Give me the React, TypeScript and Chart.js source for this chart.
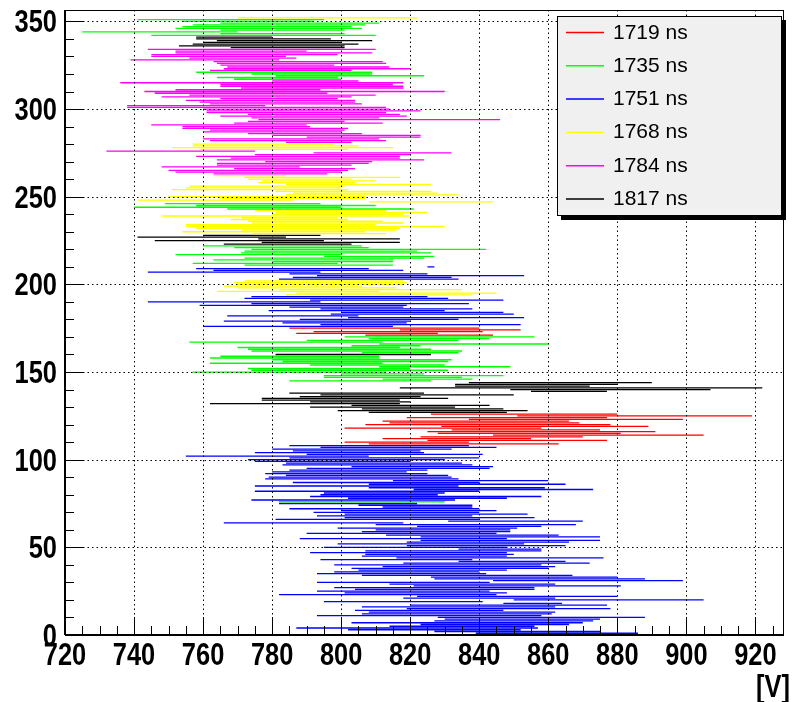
import React, { useEffect, useRef } from "react";
import { Chart, registerables } from "chart.js";

Chart.register(...registerables);

// ---- data ----
const seriesLabels = ["1719 ns", "1735 ns", "1751 ns", "1768 ns", "1784 ns", "1817 ns"];
const seriesColors = ["#ff0000", "#00ff00", "#0000ff", "#ffff00", "#ff00ff", "#000000"];
const xTickValues = [720, 740, 760, 780, 800, 820, 840, 860, 880, 900, 920];
const yTickValues = [0, 50, 100, 150, 200, 250, 300, 350];
const xAxisTitle = "[V]";

// rows: [y, low, high]
const rows1719 = [
  [175, 785, 840], [174, 817, 852], [173, 792, 841], [172, 787, 828], [171, 807, 844],
  [126, 826, 880], [125, 851, 919], [124, 819, 877], [123, 837, 899], [122, 812, 866],
  [121, 814, 869], [120, 807, 878], [119, 829, 889], [118, 801, 858], [117, 832, 875],
  [116, 825, 891], [115, 828, 881], [114, 844, 905], [113, 823, 870], [112, 812, 855],
  [111, 825, 877], [110, 801, 837], [109, 808, 863],
];

const rows1735 = [
  [351, 741, 795], [350, 754, 792], [349, 765, 811], [348, 757, 807], [347, 754, 803],
  [346, 752, 806], [345, 765, 801], [344, 725, 770], [343, 765, 801], [342, 745, 810],
  [321, 758, 809], [320, 774, 809], [319, 781, 824], [318, 764, 799], [317, 769, 800],
  [246, 749, 794], [245, 758, 810], [244, 740, 800], [243, 767, 821],
  [222, 760, 806], [221, 769, 808], [220, 774, 842], [219, 772, 822], [218, 771, 826],
  [217, 752, 800], [216, 795, 827], [215, 772, 824], [214, 763, 815], [213, 780, 815],
  [212, 757, 799], [211, 772, 815],
  [170, 801, 856], [169, 808, 843], [168, 790, 834], [167, 756, 812], [166, 811, 860],
  [165, 803, 823], [164, 770, 817], [163, 773, 826], [162, 774, 835], [161, 806, 834],
  [159, 765, 811], [158, 762, 811], [157, 780, 832], [156, 783, 831], [155, 762, 812],
  [154, 791, 830], [153, 811, 849], [152, 773, 820], [151, 774, 831], [150, 757, 813],
  [149, 800, 824], [148, 795, 847], [147, 795, 835], [146, 812, 838], [145, 785, 826],
  [76, 782, 830],
];

const rows1751 = [
  [210, 825, 827], [209, 758, 808], [208, 763, 818], [207, 744, 794], [206, 785, 825],
  [205, 793, 853], [204, 786, 832], [203, 782, 834],
  [193, 774, 825], [192, 772, 831], [191, 791, 847], [190, 744, 794], [189, 774, 837],
  [188, 759, 819], [187, 785, 818], [186, 794, 838], [185, 779, 830], [184, 800, 847],
  [183, 797, 850], [182, 767, 805], [181, 802, 853], [180, 788, 834], [179, 766, 820],
  [178, 783, 819], [177, 794, 852], [176, 760, 815],
  [108, 785, 837], [107, 794, 845], [106, 780, 832], [105, 786, 823], [104, 775, 824],
  [103, 790, 841], [102, 755, 808], [101, 785, 840], [100, 773, 830], [99, 775, 820],
  [98, 784, 835], [97, 783, 838], [96, 803, 844], [95, 790, 843], [94, 785, 825],
  [93, 780, 819], [92, 778, 825], [91, 784, 831], [90, 779, 832], [89, 778, 834],
  [88, 815, 860], [87, 786, 840], [86, 808, 865], [85, 775, 834], [84, 808, 859],
  [83, 821, 873], [82, 775, 840], [81, 795, 830], [80, 794, 828], [79, 791, 858],
  [78, 802, 848], [77, 774, 833],
  [75, 782, 822], [74, 805, 838], [73, 812, 838], [72, 785, 840], [71, 800, 845],
  [70, 792, 840], [69, 801, 854], [68, 793, 838], [67, 801, 856], [66, 781, 840],
  [65, 831, 870], [64, 766, 818], [63, 810, 868], [62, 822, 858], [61, 799, 851],
  [60, 810, 849], [59, 806, 849], [58, 790, 845], [57, 813, 863], [56, 823, 875],
  [55, 788, 848], [54, 823, 875], [53, 819, 866], [52, 799, 853], [51, 819, 865],
  [50, 795, 848], [49, 834, 858], [48, 807, 858], [47, 791, 848], [46, 807, 850],
  [45, 806, 848], [44, 816, 876], [43, 794, 838], [42, 834, 865], [41, 818, 872],
  [40, 798, 858], [39, 812, 862], [38, 803, 860], [37, 805, 848], [36, 798, 840],
  [35, 793, 842], [34, 806, 867], [33, 826, 880], [32, 827, 888], [31, 844, 899],
  [30, 793, 843], [29, 814, 862], [28, 821, 881], [27, 798, 856], [26, 804, 856],
  [25, 793, 843], [24, 801, 848], [23, 782, 845], [22, 822, 880], [21, 818, 862],
  [20, 850, 905], [19, 795, 841], [18, 847, 864], [17, 820, 877], [16, 806, 862],
  [15, 819, 878], [14, 804, 847], [13, 808, 862], [12, 806, 861], [11, 793, 858],
  [10, 828, 888], [9, 830, 875], [8, 827, 873], [7, 803, 870], [6, 823, 866],
  [5, 814, 856], [4, 787, 857], [3, 802, 852], [2, 827, 875], [1, 839, 886],
  [0, 828, 875],
];

const rows1768 = [
  [352, 770, 822],
  [280, 757, 798], [279, 757, 805], [278, 751, 815], [277, 759, 802],
  [262, 763, 784], [261, 772, 817], [260, 773, 803], [259, 777, 810], [258, 776, 804],
  [257, 784, 826], [256, 756, 801], [255, 755, 800], [254, 751, 802], [253, 781, 826],
  [252, 786, 828], [251, 784, 834], [250, 750, 807], [249, 765, 807], [248, 741, 786],
  [247, 808, 844],
  [242, 775, 813], [241, 781, 825], [240, 780, 818], [239, 748, 820], [238, 771, 799],
  [237, 768, 802], [236, 773, 812], [235, 774, 818], [234, 755, 810], [233, 755, 830],
  [232, 758, 817], [231, 771, 816], [230, 754, 807], [229, 774, 813],
  [202, 772, 818], [201, 769, 819], [200, 770, 818], [199, 766, 806], [198, 770, 816],
  [197, 782, 835], [196, 764, 811], [195, 787, 845], [194, 784, 838],
];

const rows1784 = [
  [334, 744, 810], [333, 752, 790], [332, 752, 809], [331, 745, 799], [330, 745, 784],
  [329, 756, 787], [328, 739, 782], [327, 763, 812], [326, 764, 813], [325, 765, 798],
  [324, 767, 814], [323, 766, 820], [322, 762, 803],
  [316, 780, 805], [315, 736, 818], [314, 765, 815], [313, 765, 818], [312, 771, 818],
  [311, 752, 794], [310, 743, 830], [309, 746, 796], [308, 756, 810], [307, 748, 803],
  [306, 765, 799], [305, 755, 804], [304, 759, 804], [303, 762, 806], [302, 738, 778],
  [301, 738, 813], [300, 760, 814], [299, 761, 823], [298, 761, 813], [297, 773, 817],
  [296, 765, 819], [295, 774, 811], [294, 776, 846], [293, 773, 801], [292, 769, 812],
  [291, 745, 790], [290, 754, 791], [289, 754, 802], [288, 762, 801], [287, 760, 800],
  [286, 773, 806], [285, 780, 823], [284, 790, 823], [283, 760, 811], [282, 762, 813],
  [281, 784, 803],
  [276, 732, 775], [275, 792, 832], [274, 775, 820], [273, 758, 817], [272, 768, 817],
  [271, 764, 824], [270, 778, 809], [269, 764, 808], [268, 764, 803], [267, 748, 788],
  [266, 769, 804], [265, 750, 802], [264, 752, 800], [263, 763, 796],
];

const rows1817 = [
  [341, 758, 780], [340, 758, 797], [339, 764, 809], [338, 760, 800], [337, 757, 805],
  [336, 753, 801], [335, 768, 801],
  [228, 760, 794], [227, 741, 784], [226, 776, 817], [225, 746, 795], [224, 777, 817],
  [223, 766, 803],
  [160, 781, 826],
  [144, 837, 890], [143, 833, 880], [142, 833, 872], [141, 817, 922], [140, 849, 907],
  [139, 855, 877], [138, 785, 824], [137, 794, 850], [136, 788, 823], [135, 777, 831],
  [134, 777, 817], [133, 791, 820], [132, 762, 817], [131, 803, 843], [130, 791, 833],
  [129, 806, 847], [128, 799, 854], [127, 808, 848],
];

const allRows = [rows1719, rows1735, rows1751, rows1768, rows1784, rows1817];

function toSegments(rows: number[][]) {
  const pts: { x: number; y: number | null }[] = [];
  for (const [y, lo, hi] of rows) {
    pts.push({ x: lo, y }, { x: hi, y }, { x: hi, y: null });
  }
  return pts;
}

const FONT = "'Liberation Sans', Arial, Helvetica, sans-serif";
const LABEL_SIZE = 31;
const LABEL_SQUEEZE = 0.82;

// draws condensed bold text (the reference uses a narrow bold face)
function narrowText(ctx: CanvasRenderingContext2D, text: string, x: number, y: number, align: "left" | "right" | "center") {
  ctx.save();
  ctx.translate(x, y);
  ctx.scale(LABEL_SQUEEZE, 1);
  ctx.font = `bold ${LABEL_SIZE}px ${FONT}`;
  ctx.textAlign = align;
  ctx.textBaseline = "alphabetic";
  ctx.fillStyle = "#000";
  ctx.fillText(text, 0, 0);
  ctx.restore();
}

export default function App() {
  const ref = useRef<HTMLCanvasElement>(null);

  useEffect(() => {
    const canvas = ref.current;
    if (!canvas) return;

    const datasets = allRows.map((rows, i) => ({
      label: seriesLabels[i],
      data: toSegments(rows),
      showLine: true,
      borderColor: seriesColors[i],
      backgroundColor: seriesColors[i],
      borderWidth: 1.3,
      pointRadius: 0,
      pointHoverRadius: 0,
      spanGaps: false,
    }));

    const decor = {
      id: "rootDecor",
      afterDatasetsDraw(chart: any) {
        const { ctx, chartArea } = chart;
        const xs = chart.scales.x;
        const ys = chart.scales.y;
        const { left, right, top, bottom } = chartArea;
        ctx.save();

        // dotted grid
        ctx.strokeStyle = "#000";
        ctx.lineWidth = 1;
        ctx.setLineDash([1.5, 3]);
        for (const v of xTickValues) {
          const px = Math.round(xs.getPixelForValue(v)) + 0.5;
          if (px <= left + 1 || px >= right - 1) continue;
          ctx.beginPath();
          ctx.moveTo(px, top);
          ctx.lineTo(px, bottom);
          ctx.stroke();
        }
        for (const v of yTickValues) {
          const py = Math.round(ys.getPixelForValue(v)) + 0.5;
          if (py >= bottom - 1 || py <= top + 1) continue;
          ctx.beginPath();
          ctx.moveTo(left, py);
          ctx.lineTo(right, py);
          ctx.stroke();
        }
        ctx.setLineDash([]);

        // tick marks (inside the frame)
        ctx.lineWidth = 1;
        for (let v = xs.min; v <= xs.max; v += 5) {
          const px = Math.round(xs.getPixelForValue(v)) + 0.5;
          const len = v % 20 === 0 ? 18 : 9;
          ctx.beginPath();
          ctx.moveTo(px, bottom);
          ctx.lineTo(px, bottom - len);
          ctx.stroke();
        }
        for (let v = 0; v <= ys.max; v += 10) {
          const py = Math.round(ys.getPixelForValue(v)) + 0.5;
          const len = v % 50 === 0 ? 18 : 9;
          ctx.beginPath();
          ctx.moveTo(left, py);
          ctx.lineTo(left + len, py);
          ctx.stroke();
        }

        // frame
        ctx.strokeRect(left + 0.5, top + 0.5, right - left, bottom - top);
        ctx.lineWidth = 2;
        ctx.beginPath();
        ctx.moveTo(left, bottom);
        ctx.lineTo(right + 1, bottom);
        ctx.moveTo(left, top);
        ctx.lineTo(left, bottom);
        ctx.stroke();

        // tick labels, placed by the scales
        const capHalf = 0.716 * LABEL_SIZE / 2;
        for (const v of xTickValues) {
          narrowText(ctx, String(v), xs.getPixelForValue(v), bottom + 30, "center");
        }
        for (const v of yTickValues) {
          narrowText(ctx, String(v), left - 8, ys.getPixelForValue(v) + capHalf, "right");
        }

        // axis title
        narrowText(ctx, xAxisTitle, 790, 697, "right");

        // legend
        const lx = 557, ly = 16, lw = 224, lh = 199;
        ctx.fillStyle = "#000";
        ctx.fillRect(lx + 4, ly + 4, lw + 1, lh + 1);
        ctx.fillStyle = "#f0f0f0";
        ctx.fillRect(lx, ly, lw, lh);
        ctx.strokeStyle = "#000";
        ctx.lineWidth = 1;
        ctx.strokeRect(lx + 0.5, ly + 0.5, lw, lh);
        ctx.font = `21px ${FONT}`;
        ctx.textAlign = "left";
        ctx.textBaseline = "alphabetic";
        for (let i = 0; i < seriesLabels.length; i++) {
          const yy = 32.5 + 33.3 * i;
          ctx.strokeStyle = seriesColors[i];
          ctx.lineWidth = 1.5;
          ctx.beginPath();
          ctx.moveTo(566, yy);
          ctx.lineTo(604, yy);
          ctx.stroke();
          ctx.fillStyle = "#000";
          ctx.fillText(seriesLabels[i], 613, 38.5 + 33.3 * i);
        }
        ctx.restore();
      },
    };

    const chart = new Chart(canvas, {
      type: "scatter",
      data: { datasets } as any,
      options: {
        animation: false,
        responsive: false,
        devicePixelRatio: 1,
        events: [],
        layout: { padding: { top: 10, right: 12, left: 0, bottom: 0 } },
        plugins: { legend: { display: false }, tooltip: { enabled: false } },
        scales: {
          x: {
            type: "linear",
            position: "bottom",
            min: 720,
            max: 928,
            afterFit: (s: any) => { s.height = 67; s.paddingLeft = 0; s.paddingRight = 0; },
            afterBuildTicks: (s: any) => { s.ticks = xTickValues.map((v) => ({ value: v })); },
            grid: { display: false, drawTicks: false },
            border: { display: false },
            ticks: { display: false },
          },
          y: {
            type: "linear",
            position: "left",
            min: 0,
            max: 356.5,
            afterFit: (s: any) => { s.width = 65; s.paddingTop = 0; s.paddingBottom = 0; },
            afterBuildTicks: (s: any) => { s.ticks = yTickValues.map((v) => ({ value: v })); },
            grid: { display: false, drawTicks: false },
            border: { display: false },
            ticks: { display: false },
          },
        },
      } as any,
      plugins: [decor],
    });

    return () => chart.destroy();
  }, []);

  return (
    <div style={{ position: "fixed", left: 0, top: 0, width: 795, height: 702, background: "#fff" }}>
      <canvas ref={ref} width={795} height={702} style={{ display: "block" }} />
    </div>
  );
}
